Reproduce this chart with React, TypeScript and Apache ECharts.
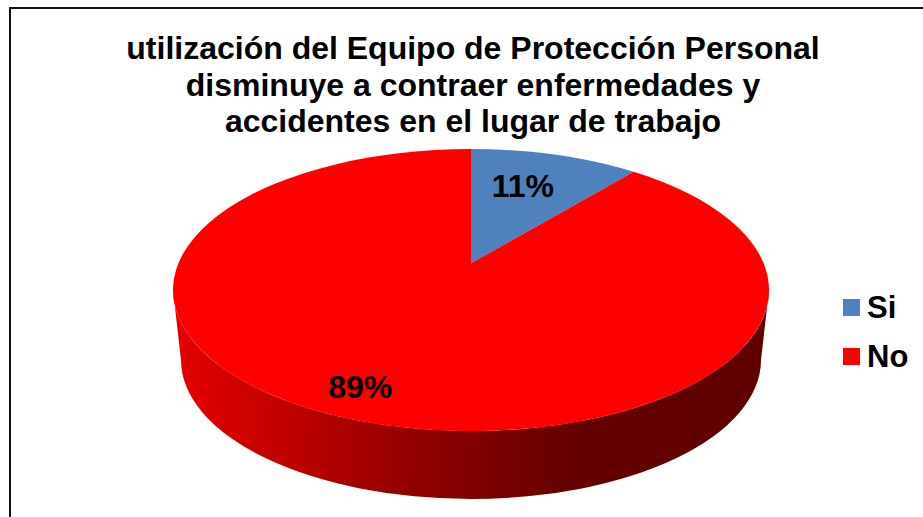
import React, { useEffect, useRef } from "react";
import * as echarts from "echarts";

// ---- data ----
const categories = ["Si", "No"];
const values = [11, 89];
const sliceColors = ["#4F81BD", "#FF0000"];
const titleLines = [
  "utilización del Equipo de Protección Personal",
  "disminuye a contraer enfermedades y",
  "accidentes en el lugar de trabajo",
];

// ---- layout of the tilted disc ----
const FONT = '"Liberation Sans", Arial, sans-serif';
const CX = 471;
const CY = 290;
const RX = 298;
const RY = 141;
const TILT = 0.19; // perspective shift of the apex above the ellipse centre
const LOWER = { cy: 360, rx: 290, ry: 139 };
const labelPlacement = [
  { fraction: 0.667, turn: -2.5 },
  { fraction: 0.84, turn: 2.8 },
];
const wallStops = [
  { offset: 0, color: "#E60000" },
  { offset: 0.2, color: "#BE0000" },
  { offset: 0.4, color: "#920000" },
  { offset: 0.68, color: "#640000" },
  { offset: 1, color: "#600000" },
];

const total = values.reduce((a, b) => a + b, 0);

// Projects a point of the unit pie (angle clockwise from 12 o'clock) on screen.
function project(fraction: number, angle: number): [number, number, number, number] {
  const u = fraction * Math.sin(angle);
  const v = fraction * Math.cos(angle);
  const d = 1 + TILT * v;
  const vp = (v + TILT) / d;
  const up = (u * Math.sqrt(1 - TILT * TILT)) / d;
  return [CX + RX * up, CY - RY * vp, up, vp];
}

function sliceAngles(index: number) {
  const before = values.slice(0, index).reduce((a, b) => a + b, 0);
  return {
    start: (before / total) * Math.PI * 2,
    end: ((before + values[index]) / total) * Math.PI * 2,
  };
}

function makeRenderItem(index: number) {
  return (_params: any, api: any) => {
    const value = api.value(0);
    const { start, end } = sliceAngles(index);
    const apex = project(0, 0);
    const p1 = project(1, start);
    const p2 = project(1, end);
    const t1 = Math.atan2(p1[2], p1[3]);
    const t2 = Math.atan2(p2[2], p2[3]);
    let delta = t2 - t1;
    while (delta <= 0) delta += Math.PI * 2;
    const large = delta > Math.PI ? 1 : 0;
    const children: any[] = [];
    // the side wall is only visible below the front rim, which the last slice owns
    if (end - start > Math.PI) {
      const wall =
        `M${CX - RX} ${CY} A${RX} ${RY} 0 0 0 ${CX + RX} ${CY} ` +
        `L${CX + LOWER.rx} ${LOWER.cy} A${LOWER.rx} ${LOWER.ry} 0 0 1 ${CX - LOWER.rx} ${LOWER.cy} Z`;
      children.push({
        type: "path",
        shape: { pathData: wall, layout: "cover", x: CX - RX, y: CY - 0, width: 2 * RX, height: LOWER.cy + LOWER.ry - CY },
        style: { fill: new echarts.graphic.LinearGradient(0, 0, 1, 0, wallStops) },
      });
    }
    const top =
      `M${apex[0]} ${apex[1]} L${p1[0]} ${p1[1]} ` +
      `A${RX} ${RY} 0 ${large} 1 ${p2[0]} ${p2[1]} Z`;
    children.push({
      type: "path",
      shape: { pathData: top },
      style: { fill: sliceColors[index] },
    });
    const place = labelPlacement[index];
    const mid = (start + end) / 2 + (place.turn * Math.PI) / 180;
    const lp = project(place.fraction, mid);
    children.push({
      type: "text",
      z2: 10,
      style: {
        x: lp[0],
        y: lp[1],
        text: `${value}%`,
        fill: "#000000",
        font: `bold 32px ${FONT}`,
        align: "center",
        verticalAlign: "middle",
      },
    });
    return { type: "group", children };
  };
}

export default function App() {
  const ref = useRef<HTMLDivElement>(null);
  useEffect(() => {
    const chart = echarts.init(ref.current!, undefined, { renderer: "svg" });
    chart.setOption({
      animation: false,
      backgroundColor: "#FFFFFF",
      title: {
        text: titleLines.join("\n"),
        left: 468,
        top: 25,
        textAlign: "center",
        textStyle: {
          fontFamily: FONT,
          fontWeight: "bold",
          fontSize: 32,
          lineHeight: 36.5,
          color: "#000000",
        },
      },
      legend: {
        data: categories,
        orient: "vertical",
        left: 838,
        top: 287,
        icon: "rect",
        itemWidth: 17,
        itemHeight: 17,
        itemGap: 18,
        textStyle: {
          fontFamily: FONT,
          fontWeight: "bold",
          fontSize: 31,
          color: "#000000",
          padding: [0, 0, 0, 2],
        },
      },
      graphic: [
        {
          type: "polyline",
          silent: true,
          shape: { points: [[10, 517], [10, 8], [923, 8]] },
          style: { stroke: "#111111", lineWidth: 2, fill: "none" },
        },
      ],
      series: categories.map((name, i) => ({
        type: "custom",
        name,
        coordinateSystem: "none",
        itemStyle: { color: sliceColors[i] },
        data: [values[i]],
        renderItem: makeRenderItem(i),
      })),
    });
    return () => chart.dispose();
  }, []);
  return (
    <div
      ref={ref}
      style={{ position: "absolute", left: 0, top: 0, width: 923, height: 517 }}
    />
  );
}
